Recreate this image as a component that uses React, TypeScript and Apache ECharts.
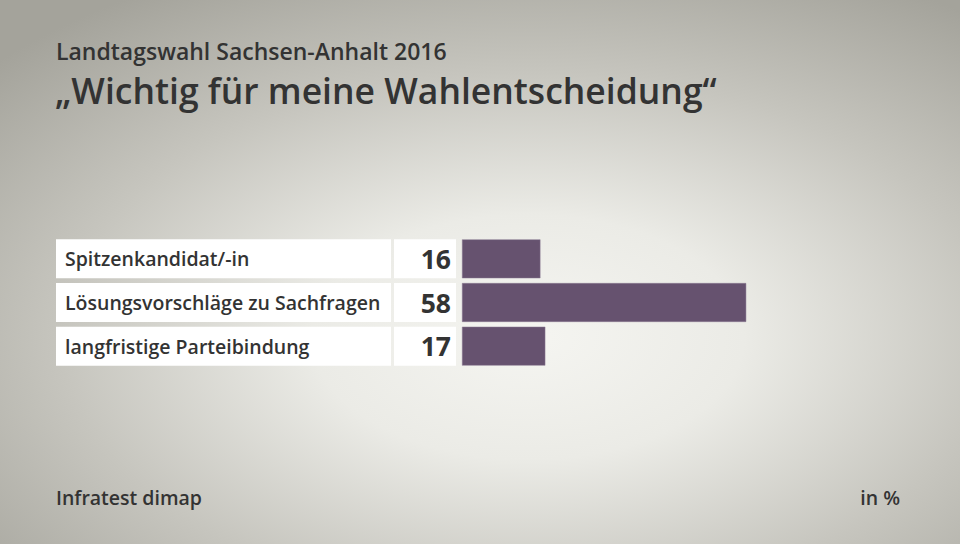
import React, { useEffect, useRef } from "react";
import * as echarts from "echarts";

const categories = ["Spitzenkandidat/-in", "Lösungsvorschläge zu Sachfragen", "langfristige Parteibindung"];
const values = [16, 58, 17];
const subtitle = "Landtagswahl Sachsen-Anhalt 2016";
const title = "„Wichtig für meine Wahlentscheidung“";
const source = "Infratest dimap";
const unit = "in %";

const FONT = "'Open Sans', 'Noto Sans', sans-serif";

export default function App() {
  const ref = useRef<HTMLDivElement>(null);
  useEffect(() => {
    if (!ref.current) return;
    const chart = echarts.init(ref.current, null, { renderer: "svg" });
    chart.setOption({
      animation: false,
      backgroundColor: {
        type: "radial",
        x: 0.55,
        y: 0.62,
        r: 0.75,
        colorStops: [
          { offset: 0, color: "#f5f5f1" },
          { offset: 0.3, color: "#ebebe6" },
          { offset: 0.65, color: "#c6c5be" },
          { offset: 1, color: "#a4a39b" },
        ],
      },
      title: [
        {
          text: subtitle,
          left: 56,
          top: 39,
          padding: 0,
          textStyle: { fontFamily: FONT, fontSize: 23, fontWeight: 600, color: "#333333" },
        },
        {
          text: title,
          left: 55,
          top: 72,
          padding: 0,
          textStyle: { fontFamily: FONT, fontSize: 35.5, fontWeight: 600, color: "#333333" },
        },
        {
          text: source,
          left: 56,
          top: 487,
          padding: 0,
          textStyle: { fontFamily: FONT, fontSize: 19.5, fontWeight: 600, color: "#333333" },
        },
        {
          text: unit,
          right: 60,
          top: 487,
          padding: 0,
          textStyle: { fontFamily: FONT, fontSize: 19.5, fontWeight: 600, color: "#333333" },
        },
      ],
      grid: { left: 462, top: 237, width: 490, height: 131, containLabel: false },
      xAxis: {
        type: "value",
        min: 0,
        max: 100,
        show: false,
      },
      yAxis: {
        type: "category",
        data: categories,
        inverse: true,
        axisLine: { show: false },
        axisTick: { show: false },
        splitLine: { show: false },
        axisLabel: {
          margin: 6,
          formatter: (v: string, i: number) => `{a|${v}}{g|}{b|${values[i]}}`,
          rich: {
            a: {
              width: 326,
              height: 39,
              lineHeight: 39,
              padding: [0, 0, 0, 9],
              align: "left",
              backgroundColor: "#ffffff",
              fontFamily: FONT,
              fontSize: 19.5,
              fontWeight: 600,
              color: "#333333",
            },
            g: { width: 3, height: 39 },
            b: {
              width: 57,
              height: 39,
              lineHeight: 39,
              padding: [0, 5, 0, 0],
              align: "right",
              backgroundColor: "#ffffff",
              fontFamily: FONT,
              fontSize: 26.5,
              fontWeight: 700,
              color: "#333333",
            },
          },
        },
      },
      series: [
        {
          type: "bar",
          data: values,
          barCategoryGap: "11%",
          itemStyle: { color: "#66526f", borderColor: "#8a7a92", borderWidth: 0.5 },
          label: { show: false },
        },
      ],
    });
    return () => chart.dispose();
  }, []);
  return <div ref={ref} style={{ width: 960, height: 544, position: "absolute", left: 0, top: 0 }} />;
}
